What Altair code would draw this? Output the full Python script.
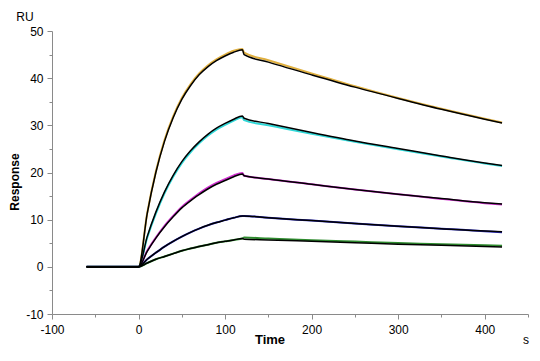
import altair as alt
import pandas as pd

# ---- data ----
series = ["c1", "c2", "c3", "c4", "c5"]
colors = ["#e0b040", "#30d8d8", "#d030d0", "#2828c0", "#2e8b2e"]

t_base = [-60, -30, 0]
t_assoc = [10, 20, 30, 40, 50, 60, 70, 80, 90, 100, 110, 120]
t_dissoc = [122, 150, 200, 250, 300, 350, 400, 420]
base_vals = [0.0, 0.0, 0.0]

# fitted curves (black)
fit_assoc = {
    "c1": [11.3, 20.0, 26.6, 31.6, 35.5, 38.4, 40.7, 42.4, 43.7, 44.7, 45.5, 46.0],
    "c2": [6.4, 11.6, 15.9, 19.4, 22.3, 24.6, 26.5, 28.1, 29.4, 30.4, 31.3, 32.0],
    "c3": [3.3, 6.1, 8.5, 10.6, 12.5, 14.0, 15.3, 16.5, 17.5, 18.3, 19.1, 19.7],
    "c4": [1.6, 3.0, 4.3, 5.4, 6.4, 7.3, 8.1, 8.8, 9.4, 9.9, 10.4, 10.8],
    "c5": [0.8, 1.6, 2.2, 2.8, 3.4, 3.9, 4.3, 4.7, 5.1, 5.4, 5.7, 6.0],
}
fit_dissoc = {
    "c1": [45.0, 43.4, 40.7, 38.1, 35.7, 33.4, 31.3, 30.5],
    "c2": [31.5, 30.4, 28.5, 26.7, 25.1, 23.5, 22.0, 21.5],
    "c3": [19.3, 18.6, 17.5, 16.4, 15.4, 14.5, 13.6, 13.3],
    "c4": [10.8, 10.4, 9.8, 9.2, 8.6, 8.1, 7.6, 7.45],
    "c5": [5.85, 5.7, 5.4, 5.1, 4.8, 4.55, 4.3, 4.2],
}
# measured sensorgrams (coloured)
data_assoc = {
    "c1": [11.4, 20.2, 26.9, 31.9, 35.8, 38.7, 41.0, 42.7, 44.0, 45.0, 45.8, 46.2],
    "c2": [6.2, 11.3, 15.6, 19.1, 22.0, 24.3, 26.2, 27.8, 29.1, 30.1, 31.0, 31.7],
    "c3": [3.4, 6.2, 8.7, 10.8, 12.7, 14.2, 15.6, 16.8, 17.8, 18.6, 19.4, 19.9],
    "c4": [1.6, 3.0, 4.3, 5.4, 6.4, 7.3, 8.1, 8.8, 9.4, 9.9, 10.4, 10.8],
    "c5": [0.8, 1.6, 2.2, 2.8, 3.4, 3.9, 4.3, 4.7, 5.1, 5.4, 5.7, 6.0],
}
data_dissoc = {
    "c1": [45.4, 43.8, 41.0, 38.3, 35.8, 33.5, 31.4, 30.6],
    "c2": [31.1, 30.0, 28.2, 26.5, 24.9, 23.4, 21.9, 21.4],
    "c3": [19.3, 18.6, 17.5, 16.4, 15.4, 14.4, 13.5, 13.2],
    "c4": [10.8, 10.4, 9.8, 9.2, 8.6, 8.1, 7.55, 7.35],
    "c5": [6.2, 6.0, 5.65, 5.35, 5.05, 4.8, 4.55, 4.45],
}

x_major = [-100, 0, 100, 200, 300, 400]
x_minor = [-50, 50, 150, 250, 350, 450]
y_major = [-10, 0, 10, 20, 30, 40, 50]
y_minor = [-5, 5, 15, 25, 35, 45]


def build(assoc, dissoc):
    rows = []
    for s in series:
        ts = t_base + t_assoc + t_dissoc
        vs = base_vals + assoc[s] + dissoc[s]
        for i, (t, v) in enumerate(zip(ts, vs)):
            rows.append({"series": s, "time": t, "resp": v, "order": i})
    return pd.DataFrame(rows)


df_fit = build(fit_assoc, fit_dissoc)
df_data = build(data_assoc, data_dissoc)

FONT = "Liberation Sans"
xs = alt.Scale(domain=[-100, 450], nice=False, zero=False)
ys = alt.Scale(domain=[-10, 50], nice=False, zero=False)

hyphen = "datum.value < 0 ? '-' + abs(datum.value) : '' + datum.value"
ax_common = dict(domainColor="#8a8a8a", tickColor="#8a8a8a", labelColor="#000000",
                 labelFont=FONT, labelFontSize=12, grid=False, title=None,
                 domainWidth=1, tickWidth=1, labelFlush=False, labelOverlap=False,
                 labelExpr=hyphen)

x_axis = alt.Axis(values=x_major, tickSize=5, labelPadding=5, orient="bottom", **ax_common)
y_axis = alt.Axis(values=y_major, tickSize=5, labelPadding=4, orient="left", **ax_common)
x_axis_minor = alt.Axis(values=x_minor, tickSize=3, labels=False, domain=False, orient="bottom",
                        tickColor="#8a8a8a", grid=False, title=None)
y_axis_minor = alt.Axis(values=y_minor, tickSize=3, labels=False, domain=False, orient="left",
                        tickColor="#8a8a8a", grid=False, title=None)

colored = alt.Chart(df_data).mark_line(strokeWidth=2.0, interpolate="monotone").encode(
    x=alt.X("time:Q", scale=xs, axis=x_axis),
    y=alt.Y("resp:Q", scale=ys, axis=y_axis),
    color=alt.Color("series:N", scale=alt.Scale(domain=series, range=colors), legend=None),
    order="order:Q",
)

fits = alt.Chart(df_fit).mark_line(strokeWidth=1.5, color="#000000", interpolate="monotone").encode(
    x=alt.X("time:Q", scale=xs, axis=x_axis_minor),
    y=alt.Y("resp:Q", scale=ys, axis=y_axis_minor),
    detail="series:N",
    order="order:Q",
)


def label(txt, x, y, bold=False, angle=0, size=12):
    return alt.Chart(pd.DataFrame({"t": [txt]})).mark_text(
        font=FONT, fontSize=size, fontWeight="bold" if bold else "normal",
        color="#000000", angle=angle, align="center", baseline="middle",
    ).encode(x=alt.value(x), y=alt.value(y), text="t:N")


texts = (label("RU", -27, -14) + label("s", 474, 309) +
         label("Time", 218, 309, bold=True, size=13) +
         label("Response", -37, 151, bold=True, angle=270))

chart = alt.layer(colored, fits, texts).resolve_axis(
    x="independent", y="independent"
).properties(
    width=476, height=283,
    autosize=alt.AutoSizeParams(type="none"),
    padding={"left": 44, "top": 23, "right": 4, "bottom": 35},
).configure_view(stroke=None)

chart.save("out.html", embed_options={"renderer": "svg", "actions": False})
